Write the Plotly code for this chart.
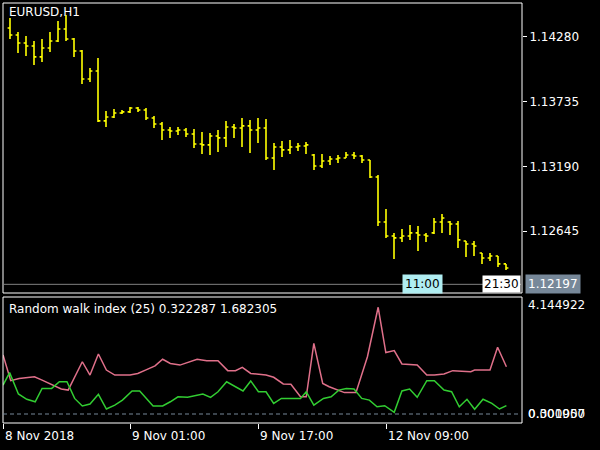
import plotly.graph_objects as go

# EURUSD H1 bars, index 0 = 8 Nov 10:00
bar_open = [1.14356,1.14297,1.14229,1.14204,1.14112,1.14187,1.14246,1.14347,1.14263,1.14162,
            1.13926,1.13994,1.13573,1.13606,1.13640,1.13649,1.13682,1.13665,1.13598,1.13547,
            1.13497,1.13488,1.13497,1.13463,1.13379,1.13371,1.13446,1.13430,1.13522,1.13514,
            1.13531,1.13497,1.13514,1.13261,1.13354,1.13329,1.13354,1.13362,1.13286,1.13194,
            1.13236,1.13253,1.13261,1.13286,1.13278,1.13244,1.13101,1.12722,1.12604,1.12588,
            1.12604,1.12630,1.12613,1.12630,1.12722,1.12722,1.12705,1.12562,1.12537,1.12461,
            1.12419,1.12436,1.12369]
bar_high = [1.14440,1.14322,1.14288,1.14246,1.14263,1.14322,1.14415,1.14465,1.14272,1.14171,
            1.14019,1.14103,1.13657,1.13674,1.13665,1.13691,1.13691,1.13682,1.13615,1.13564,
            1.13522,1.13522,1.13514,1.13505,1.13480,1.13472,1.13497,1.13573,1.13547,1.13598,
            1.13581,1.13598,1.13590,1.13387,1.13404,1.13413,1.13387,1.13396,1.13295,1.13295,
            1.13278,1.13286,1.13312,1.13312,1.13286,1.13244,1.13118,1.12832,1.12630,1.12663,
            1.12697,1.12689,1.12630,1.12756,1.12790,1.12731,1.12731,1.12562,1.12562,1.12461,
            1.12461,1.12436,1.12369]
bar_low = [1.14263,1.14145,1.14120,1.14044,1.14070,1.14154,1.14238,1.14246,1.14112,1.13884,
           1.13901,1.13564,1.13522,1.13598,1.13632,1.13640,1.13649,1.13581,1.13514,1.13413,
           1.13430,1.13455,1.13438,1.13345,1.13295,1.13286,1.13312,1.13354,1.13430,1.13354,
           1.13303,1.13387,1.13244,1.13160,1.13270,1.13295,1.13320,1.13295,1.13160,1.13177,
           1.13202,1.13219,1.13261,1.13253,1.13219,1.13093,1.12689,1.12588,1.12411,1.12554,
           1.12571,1.12478,1.12554,1.12621,1.12630,1.12613,1.12503,1.12428,1.12436,1.12369,
           1.12394,1.12343,1.12318]
bar_close = [1.14297,1.14229,1.14204,1.14112,1.14187,1.14246,1.14347,1.14263,1.14162,1.13926,
             1.13994,1.13573,1.13606,1.13640,1.13649,1.13682,1.13665,1.13598,1.13547,1.13497,
             1.13488,1.13497,1.13463,1.13379,1.13371,1.13446,1.13430,1.13522,1.13514,1.13531,
             1.13497,1.13514,1.13261,1.13354,1.13329,1.13354,1.13362,1.13371,1.13194,1.13236,
             1.13253,1.13261,1.13286,1.13278,1.13244,1.13101,1.12722,1.12604,1.12588,1.12604,
             1.12630,1.12613,1.12604,1.12722,1.12756,1.12705,1.12571,1.12537,1.12520,1.12419,
             1.12436,1.12369,1.12335]
bar_idx = list(range(len(bar_close)))

# Random walk index (traced vertices)
rwi_hi_x = [-0.87,0.09,1.14,3.06,4.01,6.41,7.27,8.08,9.04,10.0,11.05,12.05,13.1,15.0,15.97,16.93,
            18.13,19.08,20.04,21.24,22.2,23.39,24.59,26.0,27.22,28.18,29.04,30.09,32.0,32.96,
            34.16,35.11,36.31,37.03,37.98,39.09,39.9,40.86,41.81,43.25,44.68,46.02,46.98,48.03,
            48.99,50.9,52.1,53.05,54.25,55.35,57.6,58.08,60.0,60.95,62.05]
rwi_hi = [2.12,1.20,1.28,1.34,1.22,0.90,0.86,1.34,1.88,1.40,2.16,1.58,1.40,1.40,1.46,1.58,
          1.73,1.97,1.82,1.76,1.85,1.97,1.92,1.92,1.56,1.56,1.68,1.46,1.40,1.32,
          1.08,1.07,0.62,0.62,2.54,1.10,0.98,0.86,0.77,0.77,2.06,3.84,2.21,2.28,
          1.80,1.76,1.40,1.40,1.44,1.56,1.52,1.58,1.58,2.40,1.70]
rwi_lo_x = [-0.87,-0.05,1.05,2.1,3.15,4.01,5.21,6.17,7.12,8.08,9.04,10.0,11.05,12.05,13.1,14.06,
            15.26,16.21,17.89,19.08,20.04,21.0,22.2,24.11,25.07,26.0,27.08,28.18,29.13,30.09,
            31.05,32.0,32.96,33.92,36.31,37.03,37.98,39.18,40.14,41.1,42.05,43.0,43.97,44.92,
            45.88,46.84,48.03,48.99,49.95,50.9,52.1,53.05,54.25,55.2,56.16,57.12,58.08,59.13,
            60.23,61.19,62.05]
rwi_lo = [1.04,1.49,0.72,0.53,0.44,0.92,0.92,1.16,1.16,0.56,0.29,0.36,0.71,0.18,0.32,0.50,
          0.83,0.83,0.29,0.29,0.44,0.62,0.60,0.72,0.60,0.80,1.16,0.98,0.83,1.19,
          0.80,0.80,0.38,0.56,0.56,0.80,0.32,0.56,0.62,0.86,0.92,0.90,0.56,0.50,
          0.26,0.30,0.06,0.83,0.90,0.60,1.20,1.20,0.86,0.80,0.26,0.53,0.17,0.53,
          0.38,0.18,0.30]

price_ticks = [1.14280, 1.13735, 1.13190, 1.12645]
time_tick_pos = [-0.875, 15, 31, 47]
time_tick_text = ["8 Nov 2018", "9 Nov 01:00", "9 Nov 17:00", "12 Nov 09:00"]
bid = 1.12197

FONT = "DejaVu Sans"
FS = 12
X0, X1 = 3 / 600, 522 / 600
XR = [-0.875, 64]

fig = go.Figure()
fig.add_trace(go.Ohlc(x=bar_idx, open=bar_open, high=bar_high, low=bar_low, close=bar_close,
                      increasing_line_color="#ffff00", decreasing_line_color="#ffff00",
                      line_width=1.6, tickwidth=0.3, xaxis="x", yaxis="y"))
fig.add_trace(go.Scatter(x=rwi_hi_x, y=rwi_hi, mode="lines", line=dict(color="#e0708a", width=1.5),
                         xaxis="x2", yaxis="y2"))
fig.add_trace(go.Scatter(x=rwi_lo_x, y=rwi_lo, mode="lines", line=dict(color="#32cd32", width=1.5),
                         xaxis="x2", yaxis="y2"))

fig.update_layout(
    width=600, height=450, margin=dict(l=0, r=0, t=0, b=0, autoexpand=False),
    paper_bgcolor="black", plot_bgcolor="black", showlegend=False,
    font=dict(family=FONT, size=FS, color="white"),
    xaxis=dict(domain=[X0, X1], range=XR, visible=False, rangeslider_visible=False,
               automargin=False),
    yaxis=dict(domain=[1 - 293 / 450, 1 - 3 / 450], range=[1.12124, 1.14566], side="right",
               tickvals=price_ticks, ticktext=[f"{v:.5f}" for v in price_ticks],
               ticks="outside", ticklen=4, tickcolor="white", showgrid=False, zeroline=False,
               showline=False, automargin=False, tickfont=dict(size=FS, color="white")),
    xaxis2=dict(domain=[X0, X1], range=XR, anchor="y2", tickvals=time_tick_pos,
                showticklabels=False, ticks="outside", ticklen=5, tickcolor="white",
                showgrid=False, zeroline=False, automargin=False),
    yaxis2=dict(domain=[1 - 423 / 450, 1 - 297 / 450], range=[-0.324, 4.21], anchor="x2",
                visible=False, automargin=False),
)

# panel borders
for y0, y1 in [(1 - 293 / 450, 1 - 3 / 450), (1 - 423 / 450, 1 - 297 / 450)]:
    fig.add_shape(type="rect", xref="paper", yref="paper", x0=X0, x1=X1, y0=y0, y1=y1,
                  line=dict(color="white", width=1))
# bid line and zero level
fig.add_shape(type="line", xref="x", yref="y", x0=XR[0], x1=XR[1], y0=bid, y1=bid,
              line=dict(color="#808080", width=1))
fig.add_shape(type="line", xref="x2", yref="y2", x0=XR[0], x1=XR[1], y0=0, y1=0,
              line=dict(color="#778899", width=1, dash="4px,3px"))

fig.add_annotation(text="EURUSD,H1", xref="paper", yref="paper", x=7 / 600, y=1 - 3 / 450,
                   xanchor="left", yanchor="top", showarrow=False, font=dict(size=FS, color="white"))
fig.add_annotation(text=f"{bid:.5f}", xref="paper", yref="y", x=525 / 600, y=bid,
                   xanchor="left", yanchor="middle", showarrow=False, bgcolor="#778899",
                   borderpad=2, font=dict(size=FS, color="white"))
fig.add_annotation(text="11:00", xref="paper", yref="y", x=402 / 600, y=bid,
                   xanchor="left", yanchor="middle", showarrow=False, bgcolor="#b0eef2",
                   borderpad=2, font=dict(size=FS, color="black"))
fig.add_annotation(text="21:30", xref="paper", yref="y", x=482 / 600, y=bid,
                   xanchor="left", yanchor="middle", showarrow=False, bgcolor="white",
                   borderpad=1, font=dict(size=FS, color="black"))

fig.add_annotation(text="Random walk index (25) 0.322287 1.682305", xref="paper", yref="paper",
                   x=7 / 600, y=1 - 300 / 450, xanchor="left", yanchor="top", showarrow=False,
                   font=dict(size=FS, color="white"))
fig.add_annotation(text="4.144922", xref="paper", yref="paper", x=526 / 600, y=1 - 305 / 450,
                   xanchor="left", yanchor="middle", showarrow=False, font=dict(size=FS, color="white"))
for lbl in ["0.000000", "0.301957"]:
    fig.add_annotation(text=lbl, xref="paper", yref="y2", x=526 / 600, y=0,
                       xanchor="left", yanchor="middle", showarrow=False,
                       font=dict(size=FS, color="white"))

for pos, txt in zip(time_tick_pos, time_tick_text):
    fig.add_annotation(text=txt, xref="x2", yref="paper", x=pos, y=1 - 427 / 450,
                       xanchor="left", yanchor="top", showarrow=False,
                       font=dict(size=FS, color="white"))

fig.write_html("out.html", config={"displayModeBar": False},
               post_script="document.body.style.margin='0';document.body.style.background='black';")
